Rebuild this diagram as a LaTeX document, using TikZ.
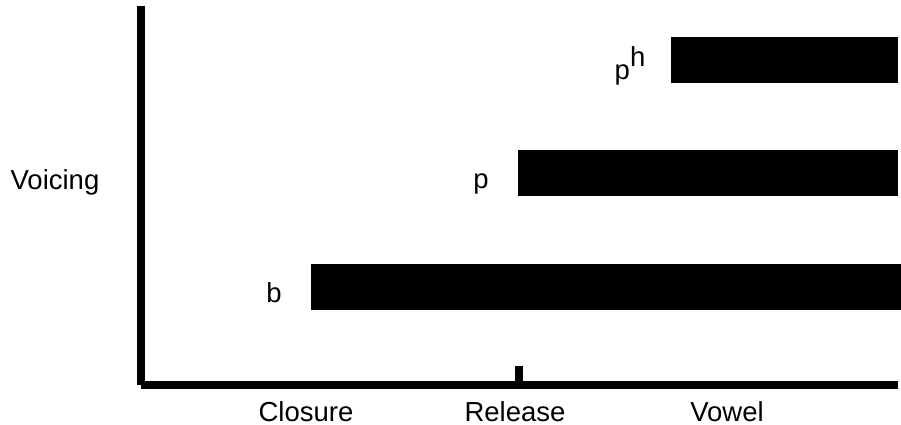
\documentclass[tikz,border=0pt]{standalone}
\usepackage{fontspec}
\setmainfont{Liberation Sans}
\tikzset{
    axis/.style={line width=8pt, line cap=butt},
    voicebar/.style={fill=black, draw=none},
    lbl/.style={font=\fontsize{27.5}{32}\selectfont, inner sep=0pt, anchor=base}
}
\begin{document}
\begin{tikzpicture}[x=1pt, y=-1pt]
    \useasboundingbox (0,0) rectangle (901,425);

    % axes
    \coordinate (top) at (141,6);
    \coordinate (origin) at (141,385);
    \coordinate (right) at (898,385);
    \coordinate (tickbase) at (519,381);
    \coordinate (ticktop) at (519,366);
    \draw[axis] (top) -- (origin);
    \draw[axis] (origin) -- (right);
    \draw[axis] (tickbase) -- (ticktop);

    % voicing bars
    \fill[voicebar] (671,37) rectangle (898,83);
    \fill[voicebar] (518,150) rectangle (898,196);
    \fill[voicebar] (311,264) rectangle (901,310);

    % bar labels
    \node[lbl] (ph) at (630,80) {p\raisebox{13pt}{h}};
    \node[lbl] (p) at (481,188) {p};
    \node[lbl] (b) at (274,302) {b};

    % axis labels
    \node[lbl] (voicing) at (55,189) {Voicing};
    \node[lbl] (closure) at (306,421) {Closure};
    \node[lbl] (release) at (515,421) {Release};
    \node[lbl] (vowel) at (727,421) {Vowel};
\end{tikzpicture}
\end{document}
